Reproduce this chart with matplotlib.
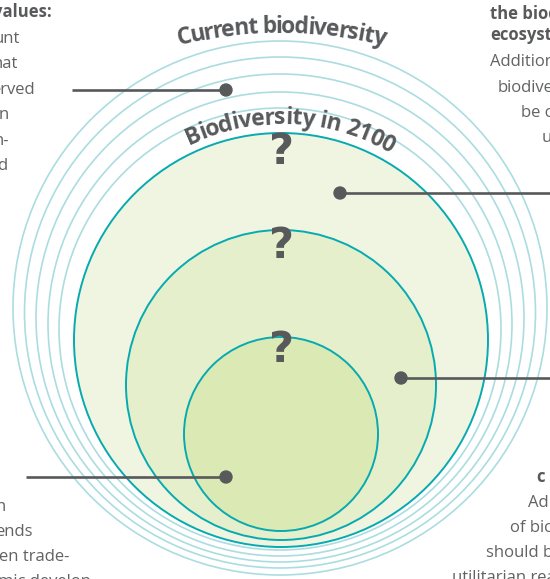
import numpy as np
import matplotlib.pyplot as plt
from matplotlib.patches import Circle
from matplotlib.font_manager import FontProperties

# textos do grafico
titulo_atual = "Current biodiversity"
titulo_2100 = "Biodiversity in 2100"
interrogacoes = ["?", "?", "?"]

# fragmentos de texto cortados nas bordas: (texto, x, linha de base, negrito)
txt_esq_cima = [("values:", 52, 17, True), ("unt", 20, 43, False), ("hat", 18, 68, False),
                ("erved", 35, 94, False), ("n", 9, 119, False), ("n-", 9, 145, False),
                ("d", 7, 170, False)]
txt_dir_cima = [("the biod", 490, 19, True), ("ecosyst", 490, 40, True), ("Addition", 490, 66, False),
                ("biodivers", 498, 92, False), ("be c", 521, 117, False), ("u", 542, 142, False)]
txt_esq_baixo = [("n", 6, 511, False), ("ends", 33, 536, False), ("en trade-", 69, 561, False),
                 ("mic develop", 91, 586, False)]
txt_dir_baixo = [("c", 536, 482, True), ("Ad", 528, 507, False), ("of bic", 510, 532, False),
                 ("should b", 486, 557, False), ("utilitarian rea", 452, 582, False)]

# geometria (pixels)
aneis = [(280, 308, 267), (280, 312.5, 255.5), (280, 318, 244), (280, 324, 232), (280, 329, 221)]
circulos = [(281, 340, 207, '#eff5e0'), (281, 385, 155, '#e5efcb'), (281, 434, 97, '#dbe9b5')]
pos_interrog = [(281, 164), (281, 258), (281, 362)]
ponteiros = [((72, 90), (226, 90)), ((340, 193), (551, 193)), ((401, 378), (551, 378)), ((26, 477), (226, 477))]
pontos = [(226, 90), (340, 193), (401, 378), (226, 477)]

cinza = '#58595b'
cinza_txt = '#616264'
W, H = 550, 579

fig = plt.figure(figsize=(W / 100, H / 100), dpi=100)
ax = fig.add_axes([0, 0, 1, 1])
ax.set_xlim(0, W)
ax.set_ylim(H, 0)
ax.axis('off')

familia = ['Open Sans', 'DejaVu Sans']

# aneis claros (biodiversidade atual)
for cx, cy, r in aneis:
    ax.add_patch(Circle((cx, cy), r, fill=False, ec='#abdde0', lw=1.2, zorder=1))

# circulos verdes (2100)
for cx, cy, r, cor in circulos:
    ax.add_patch(Circle((cx, cy), r, fc=cor, ec='#06aab0', lw=1.4, zorder=2))

for (x, y), q in zip(pos_interrog, interrogacoes):
    ax.text(x, y, q, ha='center', va='baseline', fontsize=31, fontweight='bold',
            family=['DejaVu Sans'], color=cinza, zorder=5)

# ponteiros
for (p0, p1) in ponteiros:
    ax.plot([p0[0], p1[0]], [p0[1], p1[1]], color=cinza, lw=1.9, solid_capstyle='butt', zorder=6)
for x, y in pontos:
    ax.add_patch(Circle((x, y), 6, color=cinza, zorder=7))

# texto curvo
fig.canvas.draw()
rend = fig.canvas.get_renderer()


def largura(s, prop):
    w, h, d = rend.get_text_width_height_descent(s, prop, ismath=False)
    return w


def texto_arco(s, cx, cy, R, desloc, tam, alvo):
    prop = FontProperties(family=familia, weight='bold', size=tam)
    total = largura(s, prop)
    k = alvo / total
    for i, ch in enumerate(s):
        if ch == ' ':
            continue
        meio = (largura(s[:i + 1], prop) - largura(ch, prop) / 2 - total / 2) * k + desloc
        th = meio / R
        x = cx + R * np.sin(th)
        y = cy - R * np.cos(th)
        ax.text(x, y, ch, fontproperties=prop, color=cinza, ha='center', va='baseline',
                rotation=-np.degrees(th), rotation_mode='anchor', zorder=5)


texto_arco(titulo_atual, 281, 463, 430, 0, 16.5, 206)
texto_arco(titulo_2100, 281, 340, 216, 9, 16.5, 208)

# fragmentos laterais
for lista, ha in [(txt_esq_cima, 'right'), (txt_esq_baixo, 'right'),
                  (txt_dir_cima, 'left'), (txt_dir_baixo, 'left')]:
    for s, x, y, negrito in lista:
        ax.text(x, y, s, ha=ha, va='baseline', fontsize=12, family=familia,
                fontweight='bold' if negrito else 'normal',
                color=cinza if negrito else cinza_txt, zorder=5)

fig.savefig('out.png', dpi=100)
